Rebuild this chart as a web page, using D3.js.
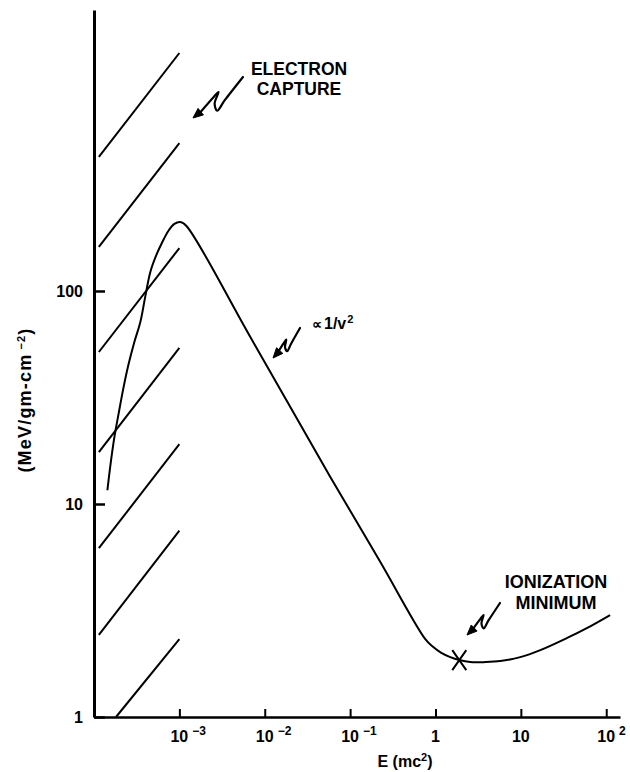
<!DOCTYPE html>
<html>
<head>
<meta charset="utf-8">
<script src="https://cdn.jsdelivr.net/npm/d3@7"></script>
<style>
  html, body { margin: 0; padding: 0; background: #fff; }
  svg { display: block; }
  text { font-family: "Liberation Sans", Arial, Helvetica, sans-serif; font-weight: bold; fill: #000; }
</style>
</head>
<body>
<svg id="chart" width="630" height="772"></svg>
<script>
// Stopping power curve: energy in units of mc^2, stopping power in MeV/(g cm^-2)
const energy = [1.435e-4, 1.556e-4, 1.733e-4, 1.93e-4, 2.21e-4, 2.53e-4, 2.97e-4, 3.49e-4,
  4.0e-4, 4.57e-4, 5.38e-4, 6.32e-4, 7.43e-4, 8.74e-4, 1.027e-3, 1.21e-3,
  6.78e-3, 0.0586, 0.226, 0.760, 0.942, 1.17, 1.49, 1.90, 2.55, 3.83, 5.74, 9.84,
  16.9, 34.9, 60.0, 111];
const stopping = [11.6, 15.2, 20.6, 26.2, 35.0, 45.0, 57.6, 71.5,
  94.8, 122.8, 147.6, 169.8, 191.3, 206.4, 210.8, 201.9,
  60.8, 13.4, 5.34, 2.32, 2.13, 2.0, 1.91, 1.85, 1.81, 1.81, 1.83, 1.91,
  2.06, 2.35, 2.62, 3.01];

// Hatched electron-capture region: one segment per entry
const hatchStartE = [1.14e-4, 1.14e-4, 1.14e-4, 1.14e-4, 1.14e-4, 1.14e-4, 1.81e-4];
const hatchStartV = [426, 161, 51.7, 17.5, 6.2, 2.43, 1];
const hatchEndE   = [1e-3, 1e-3, 1e-3, 1e-3, 1e-3, 1e-3, 1e-3];
const hatchEndV   = [1310, 495, 159, 54, 19.1, 7.5, 2.32];

// Ionization minimum marker
const minimumE = 1.90;
const minimumV = 1.85;

// Axis ticks
const xTickValues = [1e-3, 1e-2, 1e-1, 1, 10, 100];
const xTickBase   = ["10", "10", "10", "1", "10", "10"];
const xTickExp    = ["\u22123", "\u22122", "\u22121", "", "", "2"];
const yTickValues = [1, 10, 100];
const yTickLabels = ["1", "10", "100"];

const svg = d3.select("#chart");

const x = d3.scaleLog().domain([1e-4, 145]).range([94, 620]);
const y = d3.scaleLog().domain([1, 2085]).range([717, 10]);

// ---- axes ----
const xAxis = d3.axisBottom(x).tickValues(xTickValues).tickSizeInner(-8).tickSizeOuter(0).tickFormat("");
const gx = svg.append("g").attr("transform", `translate(0,${y(1)})`).call(xAxis);
gx.select(".domain").attr("stroke", "#000").attr("stroke-width", 2.5);
gx.selectAll(".tick line").attr("stroke", "#000").attr("stroke-width", 2);

const yAxis = d3.axisLeft(y).tickValues(yTickValues).tickSizeInner(-11).tickSizeOuter(0)
  .tickPadding(11).tickFormat((d, i) => yTickLabels[i]);
const gy = svg.append("g").attr("transform", `translate(${x(1e-4)},0)`).call(yAxis);
gy.select(".domain").attr("stroke", "#000").attr("stroke-width", 3);
gy.selectAll(".tick line").attr("stroke", "#000").attr("stroke-width", 2.5);
gy.selectAll(".tick text")
  .style("font-family", '"Liberation Sans", Arial, sans-serif')
  .style("font-weight", "bold").style("font-size", "16px").attr("fill", "#000");

// x tick labels: mantissa centred on the tick, exponent as superscript
const baseW = 17.8;
xTickValues.forEach((v, i) => {
  const t = svg.append("text").attr("y", 742).style("font-size", "16px");
  if (xTickExp[i] === "") {
    t.attr("x", x(v)).attr("text-anchor", "middle").text(xTickBase[i]);
  } else {
    t.attr("x", x(v) - baseW / 2);
    t.append("tspan").text(xTickBase[i]);
    t.append("tspan").attr("dx", 4).attr("dy", -7).style("font-size", "12px").text(xTickExp[i]);
  }
});

// axis titles
const xt = svg.append("text").attr("x", 405).attr("y", 767).attr("text-anchor", "middle").style("font-size", "16px");
xt.append("tspan").text("E (mc");
xt.append("tspan").attr("dy", -6).style("font-size", "11px").text("2");
xt.append("tspan").attr("dy", 6).text(")");

const yt = svg.append("text").attr("transform", "translate(31,400) rotate(-90)")
  .attr("text-anchor", "middle").style("font-size", "18px").style("letter-spacing", "1.2px");
yt.append("tspan").text("(MeV/gm-cm");
yt.append("tspan").attr("dx", 4).attr("dy", -6).style("font-size", "11px").text("\u22122");
yt.append("tspan").attr("dy", 6).text(")");

// ---- hatching ----
svg.append("g").selectAll("line").data(hatchStartE).join("line")
  .attr("x1", (d, i) => x(hatchStartE[i])).attr("y1", (d, i) => y(hatchStartV[i]))
  .attr("x2", (d, i) => x(hatchEndE[i])).attr("y2", (d, i) => y(hatchEndV[i]))
  .attr("stroke", "#000").attr("stroke-width", 2);

// ---- curve ----
const pts = energy.map((e, i) => [e, stopping[i]]);
const line = d3.line().x(d => x(d[0])).y(d => y(d[1])).curve(d3.curveCatmullRom.alpha(0.5));
svg.append("path").attr("d", line(pts)).attr("fill", "none")
  .attr("stroke", "#000").attr("stroke-width", 2).attr("stroke-linejoin", "round");

// ---- ionization minimum cross ----
const cx = x(minimumE), cy = y(minimumV);
svg.append("path")
  .attr("d", `M${cx - 7},${cy - 10}L${cx + 7},${cy + 10}M${cx + 7},${cy - 10}L${cx - 7},${cy + 10}`)
  .attr("stroke", "#000").attr("stroke-width", 2).attr("fill", "none");

// ---- squiggly pointer arrows ----
function squiggleArrow(tip, start) {
  const dx = start[0] - tip[0], dy = start[1] - tip[1];
  const L = Math.hypot(dx, dy);
  const u = [dx / L, dy / L], n = [-u[1], u[0]];
  const P = (a, b) => [tip[0] + L * (a * u[0] + b * n[0]), tip[1] + L * (a * u[1] + b * n[1])];
  const pathPts = [start, P(0.55, 0.10), P(0.36, 0.15), P(0.40, 0.04), P(0.56, -0.06),
    P(0.46, -0.05), P(0.16, 0.0)];
  svg.append("path")
    .attr("d", d3.line().curve(d3.curveCatmullRom.alpha(0.5))(pathPts))
    .attr("fill", "none").attr("stroke", "#000").attr("stroke-width", 2.2).attr("stroke-linecap", "round");
  // arrowhead
  const hl = 10, hw = 4.2;
  const b = [tip[0] + hl * u[0], tip[1] + hl * u[1]];
  svg.append("path")
    .attr("d", `M${tip[0]},${tip[1]}L${b[0] + hw * n[0]},${b[1] + hw * n[1]}L${b[0] - hw * n[0]},${b[1] - hw * n[1]}Z`)
    .attr("fill", "#000").attr("stroke", "#000").attr("stroke-width", 1);
}

squiggleArrow([193, 118], [243, 77]);
squiggleArrow([273, 358], [300, 328]);
squiggleArrow([467, 635], [500, 603]);

// ---- annotations ----
function label(lines, cxp, y0, size, gap) {
  lines.forEach((s, i) => svg.append("text").attr("x", cxp).attr("y", y0 + i * gap)
    .attr("text-anchor", "middle").style("font-size", size + "px").text(s));
}
label(["ELECTRON", "CAPTURE"], 299, 75, 17.5, 20);
label(["IONIZATION", "MINIMUM"], 556, 588, 18, 21);

const prop = svg.append("text").attr("x", 312).attr("y", 329).style("font-size", "16px");
prop.append("tspan").style("font-size", "14px").text("\u221D");
prop.append("tspan").attr("dx", 2).text("1/v");
prop.append("tspan").attr("dx", 1).attr("dy", -6).style("font-size", "11px").text("2");
</script>
</body>
</html>
